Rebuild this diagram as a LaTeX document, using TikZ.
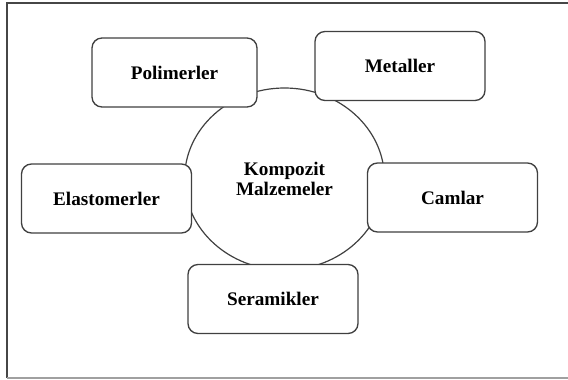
\documentclass[tikz,border=0pt]{standalone}
\usepackage{fontspec}
\setmainfont{Liberation Serif}
\usetikzlibrary{shapes.geometric}

\tikzset{
  kutu/.style={draw={rgb, 255:red, 64; green, 64; blue, 64}, line width=1pt, fill=white, rounded corners=7.5pt, minimum width=127.5pt, minimum height=51.75pt, inner sep=0.75pt, font=\fontsize{14.4}{15}\selectfont\bfseries},
  merkez/.style={draw={rgb, 255:red, 64; green, 64; blue, 64}, line width=0.9pt, ellipse, minimum width=150pt, minimum height=136.5pt, inner sep=0pt, align=center, font=\fontsize{14.4}{14.6}\selectfont\bfseries}
}

\begin{document}
\begin{tikzpicture}[x=0.75pt,y=0.75pt,yscale=-1,xscale=1]
\useasboundingbox (0,0) rectangle (568,379);

%Frame
\draw [color={rgb, 255:red, 70; green, 70; blue, 70 }, line width=1pt]  (570,3) -- (7,3) -- (7,378) ;
\draw [color={rgb, 255:red, 160; green, 160; blue, 160 }, line width=1pt]  (7,378) -- (570,378) ;

% Ellipse Node
\node [merkez] (kompozit) at (284.5,179) {Kompozit\\Malzemeler};

% Text Node
\node [kutu, minimum width=123.75pt] (polimerler) at (174.5,72.5) {Polimerler};
% Text Node
\node [kutu] (metaller) at (400,66) {Metaller};
% Text Node
\node [kutu] (elastomerler) at (106.5,198.5) {Elastomerler};
% Text Node
\node [kutu] (camlar) at (452.5,197.5) {Camlar};
% Text Node
\node [kutu] (seramikler) at (273,299) {Seramikler};

\end{tikzpicture}
\end{document}
